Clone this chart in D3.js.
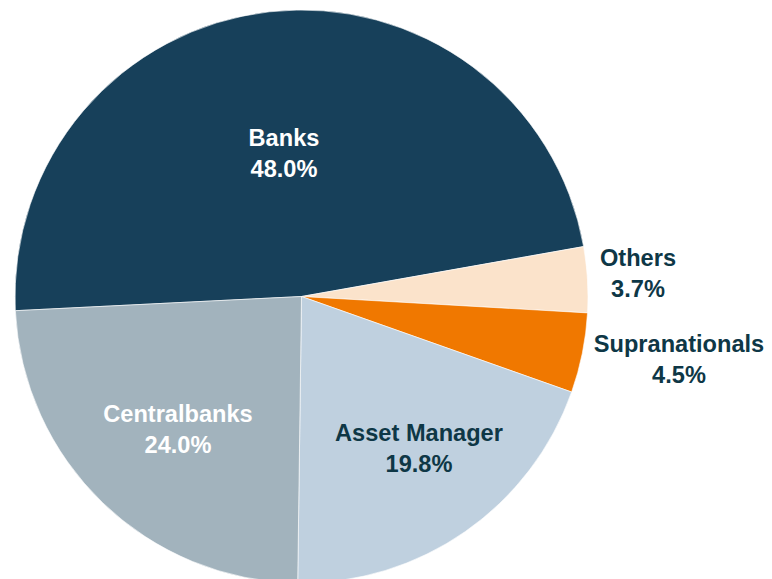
<!DOCTYPE html>
<html>
<head>
<meta charset="utf-8">
<script src="https://cdn.jsdelivr.net/npm/d3@7"></script>
<style>
  html, body { margin: 0; padding: 0; background: #fff; }
  svg { display: block; }
  text { font-family: "Liberation Sans", Arial, sans-serif; font-weight: bold; }
</style>
</head>
<body>
<svg id="chart" width="772" height="579"></svg>
<script>
const categories = ["Banks", "Others", "Supranationals", "Asset Manager", "Centralbanks"];
const values = [48.0, 3.7, 4.5, 19.8, 24.0];
const valueLabels = ["48.0%", "3.7%", "4.5%", "19.8%", "24.0%"];
const colors = ["#17405A", "#FBE3CB", "#F07800", "#BFD0DF", "#A2B3BD"];
const labelColors = ["#ffffff", "#0E3746", "#0E3746", "#0E3746", "#ffffff"];

const svg = d3.select("#chart");
const cx = 301.5, cy = 296.5, r = 286.5;
const startDeg = -92.84;

const pie = d3.pie().sort(null).value(d => d.v)
  .startAngle(startDeg * Math.PI / 180)
  .endAngle((startDeg + 360) * Math.PI / 180);

const data = categories.map((c, i) => ({ c, v: values[i], lab: valueLabels[i], col: colors[i], tcol: labelColors[i] }));
const arcs = pie(data);
const arc = d3.arc().innerRadius(0).outerRadius(r);

const g = svg.append("g").attr("transform", `translate(${cx},${cy})`);
g.selectAll("path").data(arcs).enter().append("path")
  .attr("d", arc)
  .attr("fill", d => d.data.col)
  .attr("stroke", "#ffffff")
  .attr("stroke-width", 0.6);

const labelPos = {
  "Banks": [284, 146],
  "Others": [638, 266],
  "Supranationals": [679, 352],
  "Asset Manager": [419, 441],
  "Centralbanks": [178, 421.5]
};

const lg = svg.append("g");
arcs.forEach(d => {
  const p = labelPos[d.data.c];
  const t = lg.append("text")
    .attr("x", p[0]).attr("y", p[1])
    .attr("text-anchor", "middle")
    .attr("fill", d.data.tcol)
    .attr("font-size", "23.6px");
  t.append("tspan").attr("x", p[0]).text(d.data.c);
  t.append("tspan").attr("x", p[0]).attr("dy", 31).text(d.data.lab);
});
</script>
</body>
</html>
